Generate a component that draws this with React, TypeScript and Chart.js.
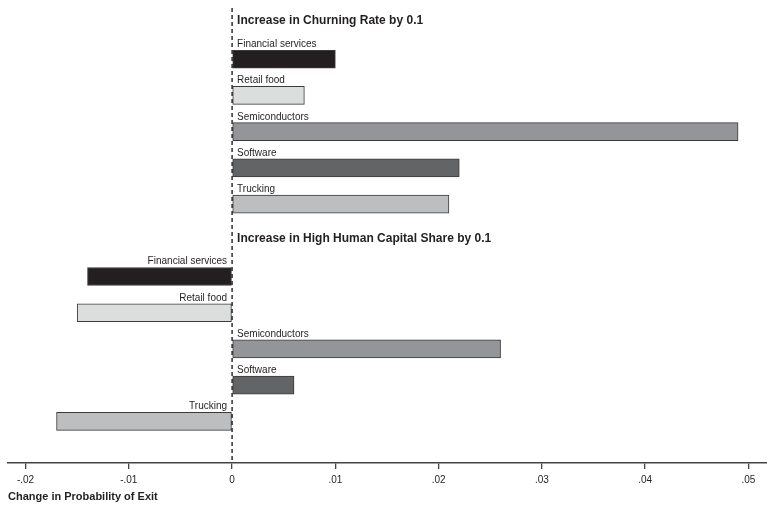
import React, { useEffect, useRef } from "react";
import { Chart, registerables } from "chart.js";

Chart.register(...registerables);

const industries = ["Financial services", "Retail food", "Semiconductors", "Software", "Trucking"];
const churnEffect = [0.010, 0.007, 0.049, 0.022, 0.021];
const capitalEffect = [-0.014, -0.015, 0.026, 0.006, -0.017];
const panelTitles = ["Increase in Churning Rate by 0.1", "Increase in High Human Capital Share by 0.1"];
const industryColors = ["#231f20", "#dcdddd", "#939598", "#636466", "#bcbec0"];
const xTickValues = [-0.02, -0.01, 0, 0.01, 0.02, 0.03, 0.04, 0.05];
const xTickLabels = ["-.02", "-.01", "0", ".01", ".02", ".03", ".04", ".05"];
const xAxisTitle = "Change in Probability of Exit";

// rows: title, 5 industries, title, 5 industries
const rowLabels: string[] = [panelTitles[0], ...industries, panelTitles[1], ...industries];
const rowValues: (number | null)[] = [null, ...churnEffect, null, ...capitalEffect];
const rowColors: string[] = ["#fff", ...industryColors, "#fff", ...industryColors];
const titleRows = [0, 6];
const barPoints = rowValues.map((v, i) => ({ x: v, y: i }));

const LABEL_FONT = "10px 'Liberation Sans', Arial, sans-serif";
const TITLE_FONT = "bold 12px 'Liberation Sans', Arial, sans-serif";
const XTITLE_FONT = "bold 11px 'Liberation Sans', Arial, sans-serif";

const overlayPlugin = {
  id: "overlay",
  afterDatasetsDraw(chart: any) {
    const ctx = chart.ctx;
    const xs = chart.scales.x;
    const ys = chart.scales.y;
    const area = chart.chartArea;
    const zeroX = xs.getPixelForValue(0);

    // dashed zero line
    ctx.save();
    ctx.strokeStyle = "#111";
    ctx.lineWidth = 1.3;
    ctx.setLineDash([4, 3]);
    ctx.beginPath();
    ctx.moveTo(zeroX, 8);
    ctx.lineTo(zeroX, area.bottom);
    ctx.stroke();
    ctx.restore();

    // panel titles
    ctx.save();
    ctx.font = TITLE_FONT;
    ctx.fillStyle = "#231f20";
    ctx.textAlign = "left";
    ctx.textBaseline = "middle";
    titleRows.forEach((r) => {
      const y = ys.getPixelForValue(r);
      ctx.fillText(rowLabels[r], zeroX + 5, y - 2);
    });
    ctx.restore();

    // industry labels
    const meta = chart.getDatasetMeta(0);
    ctx.save();
    ctx.font = LABEL_FONT;
    ctx.fillStyle = "#231f20";
    ctx.textBaseline = "alphabetic";
    meta.data.forEach((el: any, i: number) => {
      const v = rowValues[i];
      if (v === null || v === undefined) return;
      const top = el.y - el.height / 2;
      if (v >= 0) {
        ctx.textAlign = "left";
        ctx.fillText(rowLabels[i], zeroX + 5, top - 3);
      } else {
        ctx.textAlign = "right";
        ctx.fillText(rowLabels[i], zeroX - 5, top - 3);
      }
    });
    ctx.restore();

    // x axis title
    ctx.save();
    ctx.font = XTITLE_FONT;
    ctx.fillStyle = "#231f20";
    ctx.textAlign = "left";
    ctx.textBaseline = "middle";
    ctx.fillText(xAxisTitle, 8, area.bottom + 34);
    ctx.restore();
  },
};

export default function App() {
  const ref = useRef<HTMLCanvasElement | null>(null);
  useEffect(() => {
    if (!ref.current) return;
    const chart = new Chart(ref.current, {
      type: "bar",
      data: {
        datasets: [
          {
            data: barPoints as any,
            backgroundColor: rowColors,
            borderColor: "#3a3a3a",
            borderWidth: 1,
            borderSkipped: false,
            barThickness: 18,
          },
        ],
      },
      options: {
        indexAxis: "y",
        animation: false,
        responsive: false,
        maintainAspectRatio: false,
        layout: { padding: { left: 8, right: 0, top: 23, bottom: 17 } },
        plugins: {
          legend: { display: false },
          tooltip: { enabled: false },
          title: { display: false },
        },
        scales: {
          y: {
            type: "linear",
            reverse: true,
            offset: false,
            min: 0,
            max: 12.15,
            display: false,
            grid: { display: false },
          },
          x: {
            type: "linear",
            min: -0.0217,
            max: 0.0518,
            grid: {
              display: true,
              drawOnChartArea: false,
              drawTicks: true,
              tickLength: 6,
              color: "#444",
              lineWidth: 1.3,
            },
            border: { display: true, color: "#444", width: 1.5 },
            afterBuildTicks: (scale: any) => {
              scale.ticks = xTickValues.map((v) => ({ value: v }));
            },
            ticks: {
              autoSkip: false,
              maxRotation: 0,
              padding: 5,
              color: "#231f20",
              font: { family: "'Liberation Sans', Arial, sans-serif", size: 10 },
              callback: (value: any) => {
                const idx = xTickValues.findIndex((t) => Math.abs(t - Number(value)) < 1e-9);
                return idx >= 0 ? xTickLabels[idx] : "";
              },
            },
          },
        },
      },
      plugins: [overlayPlugin],
    });
    return () => chart.destroy();
  }, []);
  return (
    <div style={{ position: "fixed", left: 0, top: 0, width: 767, height: 508, background: "#fff" }}>
      <canvas ref={ref} width={767} height={508} style={{ display: "block", width: 767, height: 508 }} />
    </div>
  );
}
